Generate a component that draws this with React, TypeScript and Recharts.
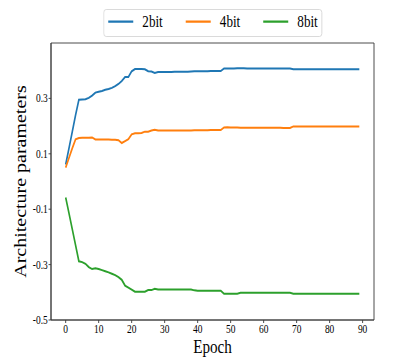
import React from 'react';
import { LineChart, Line, XAxis, YAxis, ReferenceArea, Legend, Label } from 'recharts';

const epochs = [
  0, 1, 2, 3, 4, 5, 6, 7, 8, 9, 10, 11, 12, 13, 14, 15, 16, 17, 18, 19,
  20, 21, 22, 23, 24, 25, 26, 27, 28, 29, 30, 31, 32, 33, 34, 35, 36, 37, 38, 39,
  40, 41, 42, 43, 44, 45, 46, 47, 48, 49, 50, 51, 52, 53, 54, 55, 56, 57, 58, 59,
  60, 61, 62, 63, 64, 65, 66, 67, 68, 69, 70, 71, 72, 73, 74, 75, 76, 77, 78, 79,
  80, 81, 82, 83, 84, 85, 86, 87, 88, 89,
];

const bit2 = [
  0.061, 0.12, 0.18, 0.24, 0.295, 0.296, 0.297, 0.302, 0.31, 0.321,
  0.324, 0.327, 0.331, 0.334, 0.338, 0.344, 0.352, 0.363, 0.377, 0.377,
  0.398, 0.406, 0.406, 0.406, 0.405, 0.398, 0.397, 0.392, 0.395, 0.395,
  0.395, 0.395, 0.395, 0.396, 0.396, 0.396, 0.396, 0.396, 0.397, 0.398,
  0.398, 0.398, 0.398, 0.398, 0.399, 0.399, 0.399, 0.399, 0.408, 0.408,
  0.408, 0.408, 0.409, 0.409, 0.409, 0.408, 0.408, 0.408, 0.408, 0.408,
  0.408, 0.408, 0.408, 0.408, 0.408, 0.408, 0.408, 0.408, 0.408, 0.405,
  0.405, 0.405, 0.405, 0.405, 0.405, 0.405, 0.405, 0.405, 0.405, 0.405,
  0.405, 0.405, 0.405, 0.405, 0.405, 0.405, 0.405, 0.405, 0.405, 0.405,
];

const bit4 = [
  0.05, 0.085, 0.12, 0.152, 0.157, 0.158, 0.158, 0.158, 0.159, 0.152,
  0.152, 0.152, 0.152, 0.152, 0.151, 0.151, 0.149, 0.139, 0.146, 0.153,
  0.17, 0.174, 0.174, 0.175, 0.18, 0.18, 0.184, 0.187, 0.184, 0.184,
  0.184, 0.184, 0.184, 0.184, 0.184, 0.184, 0.184, 0.184, 0.184, 0.185,
  0.185, 0.185, 0.185, 0.185, 0.186, 0.186, 0.186, 0.186, 0.195, 0.196,
  0.195, 0.195, 0.195, 0.194, 0.194, 0.194, 0.194, 0.194, 0.194, 0.194,
  0.194, 0.194, 0.194, 0.194, 0.194, 0.194, 0.193, 0.193, 0.193, 0.199,
  0.199, 0.199, 0.199, 0.199, 0.199, 0.199, 0.199, 0.199, 0.199, 0.199,
  0.199, 0.199, 0.199, 0.199, 0.199, 0.199, 0.199, 0.199, 0.199, 0.199,
];

const bit8 = [
  -0.058, -0.115, -0.172, -0.23, -0.288, -0.291, -0.297, -0.309, -0.316, -0.313,
  -0.316, -0.32, -0.324, -0.328, -0.333, -0.338, -0.345, -0.355, -0.376, -0.383,
  -0.39, -0.398, -0.398, -0.398, -0.398, -0.392, -0.392, -0.387, -0.39, -0.39,
  -0.39, -0.39, -0.39, -0.39, -0.39, -0.39, -0.39, -0.39, -0.39, -0.393,
  -0.394, -0.394, -0.394, -0.394, -0.394, -0.394, -0.394, -0.394, -0.405, -0.405,
  -0.405, -0.405, -0.405, -0.402, -0.402, -0.402, -0.402, -0.402, -0.402, -0.402,
  -0.402, -0.402, -0.402, -0.402, -0.402, -0.402, -0.402, -0.402, -0.402, -0.405,
  -0.405, -0.405, -0.405, -0.405, -0.405, -0.405, -0.405, -0.405, -0.405, -0.405,
  -0.405, -0.405, -0.405, -0.405, -0.405, -0.405, -0.405, -0.405, -0.405, -0.405,
];

const xTicks = [0, 10, 20, 30, 40, 50, 60, 70, 80, 90];
const yTicks = [-0.5, -0.3, -0.1, 0.1, 0.3];
const seriesNames = ['2bit', '4bit', '8bit'];
const seriesKeys = ['b2', 'b4', 'b8'];
const seriesColors = ['#1f77b4', '#ff7f0e', '#2ca02c'];

const data = epochs.map((e, i) => ({ epoch: e, b2: bit2[i], b4: bit4[i], b8: bit8[i] }));

const FONT = '"Liberation Serif", "Times New Roman", serif';
const AXIS = '#3a3a3a';
const SQUEEZE = 0.82;
const W = 506;
const H = 360;

const LegendBox = () => (
  <svg width={268} height={29} style={{ display: 'block' }}>
    <rect x={0.5} y={0.5} width={266} height={27} rx={3} fill="#fff" stroke="#d6d6d6" />
    {seriesNames.map((n, i) => (
      <g key={n}>
        <line x1={6 + i * 94.5} x2={36.5 + i * 94.5} y1={12.7} y2={12.7} stroke={seriesColors[i]} strokeWidth={2.2} />
        <text x={47.6 + i * 94.5} y={18.5} fontSize={16} fontFamily={FONT} fill="#000">{n}</text>
      </g>
    ))}
  </svg>
);

const YLabel = (props: any) => {
  const vb = props.viewBox || { y: 43, height: 277 };
  const cy = vb.y + vb.height / 2;
  const x = 32;
  return (
    <text x={x} y={cy} transform={`rotate(-90, ${x}, ${cy})`} textAnchor="middle" fontSize={20} fontFamily={FONT} fill="#000">
      Architecture parameters
    </text>
  );
};

const XLabel = (props: any) => {
  const vb = props.viewBox || { x: 62.2, width: 394 };
  const cx = vb.x + vb.width / 2;
  return (
    <text x={cx} y={352.6} textAnchor="middle" fontSize={18.5} fontFamily={FONT} fill="#000">
      Epoch
    </text>
  );
};

export default function App() {
  return (
    <div style={{ position: 'absolute', left: 0, top: 0, width: W, height: H, transform: `scaleX(${SQUEEZE})`, transformOrigin: '0 0', background: '#fff' }}>
      <LineChart width={W} height={H} data={data} margin={{ top: 43, right: 49.9, bottom: 0, left: 0 }}>
        <XAxis
          dataKey="epoch"
          type="number"
          domain={[-4.45, 93.45]}
          allowDataOverflow
          ticks={xTicks}
          interval={0}
          height={40}
          tickSize={3}
          tickMargin={2.2}
          stroke={AXIS}
          tick={{ fill: '#000', fontSize: 11.5, fontFamily: FONT }}
        >
          <Label content={<XLabel />} />
        </XAxis>
        <YAxis
          type="number"
          domain={[-0.5, 0.5]}
          allowDataOverflow
          ticks={yTicks}
          interval={0}
          width={62.2}
          tickSize={3}
          tickMargin={1}
          stroke={AXIS}
          tickFormatter={(v: number) => String(v)}
          tick={{ fill: '#000', fontSize: 11.5, fontFamily: FONT }}
        >
          <Label content={<YLabel />} />
        </YAxis>
        <ReferenceArea x1={-4.45} x2={93.45} y1={-0.5} y2={0.5} fill="none" stroke={AXIS} strokeWidth={1} ifOverflow="visible" />
        <Legend
          layout="horizontal"
          verticalAlign="middle"
          align="center"
          content={<LegendBox />}
          wrapperStyle={{ position: 'absolute', top: 9, left: 125.6, width: 268, height: 29 }}
        />
        {seriesKeys.map((k, i) => (
          <Line
            key={k}
            type="linear"
            dataKey={k}
            name={seriesNames[i]}
            stroke={seriesColors[i]}
            strokeWidth={2}
            dot={false}
            activeDot={false}
            isAnimationActive={false}
          />
        ))}
      </LineChart>
    </div>
  );
}
